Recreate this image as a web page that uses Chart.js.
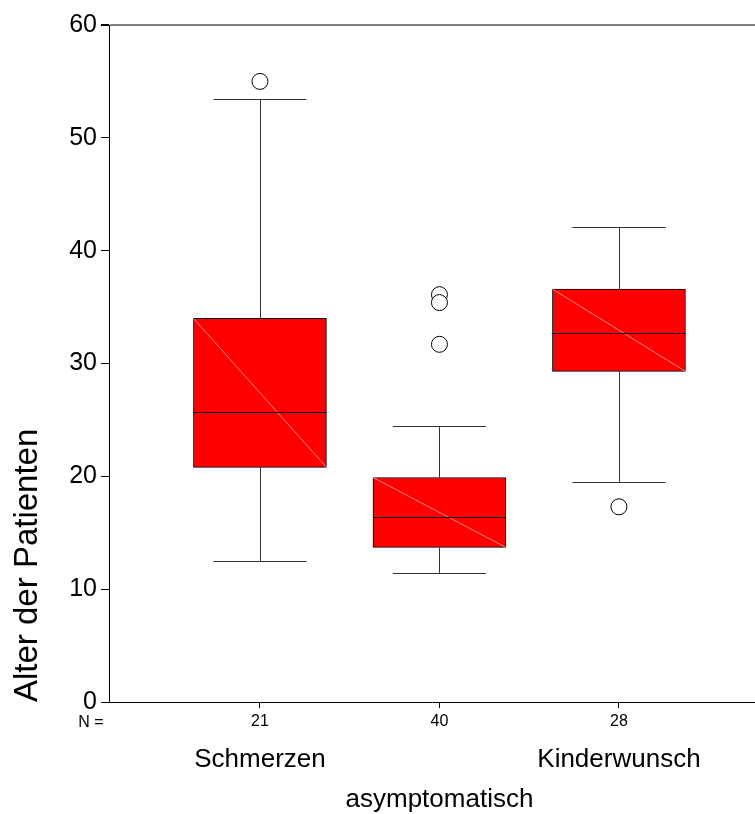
<!DOCTYPE html>
<html>
<head>
<meta charset="utf-8">
<script src="https://cdn.jsdelivr.net/npm/chart.js@4.4.0/dist/chart.umd.min.js"></script>
<style>
    html, body { margin: 0; padding: 0; background: #fff; overflow: hidden; }
    #wrap { width: 755px; height: 814px; overflow: hidden; }
    #canvas { display: block; }
</style>
</head>
<body>
<div id="wrap"><canvas id="canvas"></canvas></div>
<script>
const categories = ['Schmerzen', 'asymptomatisch', 'Kinderwunsch'];
const nCounts = [21, 40, 28];
const whiskerLow = [12.5, 11.4, 19.5];
const q1 = [20.8, 13.7, 29.3];
const median = [25.7, 16.4, 32.7];
const q3 = [34.0, 19.9, 36.6];
const whiskerHigh = [53.4, 24.5, 42.1];
const outliers = [[55.0], [36.1, 35.4, 31.7], [17.3]];
const yTicks = [0, 10, 20, 30, 40, 50, 60];

const FONT = "'Liberation Sans', Arial, sans-serif";

let boxData = categories.map((c, i) => ({x: i + 1, y: [q1[i], q3[i]]}));
let outlierData = [];
outliers.forEach((list, i) => {
    list.forEach(v => outlierData.push({x: i + 1, y: v}));
});

// Whisker, Median, Diagonale und die Kategorienamen
const boxExtras = {
    id: 'boxExtras',
    afterDatasetsDraw(chart) {
        const ctx = chart.ctx;
        const xs = chart.scales.x, ys = chart.scales.y;
        const meta = chart.getDatasetMeta(0);
        ctx.save();
        meta.data.forEach((bar, i) => {
            const cx = xs.getPixelForValue(i + 1);
            const half = bar.width / 2;
            const cap = half * 0.7;
            const top = ys.getPixelForValue(q3[i]);
            const bot = ys.getPixelForValue(q1[i]);

            ctx.strokeStyle = 'rgba(255,150,150,0.9)';
            ctx.lineWidth = 1;
            ctx.beginPath();
            ctx.moveTo(cx - half, top);
            ctx.lineTo(cx + half, bot);
            ctx.stroke();

            ctx.strokeStyle = '#000';
            ctx.beginPath();
            const m = Math.round(ys.getPixelForValue(median[i])) + 0.5;
            ctx.moveTo(cx - half, m);
            ctx.lineTo(cx + half, m);
            ctx.stroke();

            ctx.strokeStyle = '#333';
            const hi = Math.round(ys.getPixelForValue(whiskerHigh[i])) + 0.5;
            const lo = Math.round(ys.getPixelForValue(whiskerLow[i])) + 0.5;
            const vx = Math.round(cx) + 0.5;
            ctx.beginPath();
            ctx.moveTo(vx, top); ctx.lineTo(vx, hi);
            ctx.moveTo(cx - cap, hi); ctx.lineTo(cx + cap, hi);
            ctx.moveTo(vx, bot); ctx.lineTo(vx, lo);
            ctx.moveTo(cx - cap, lo); ctx.lineTo(cx + cap, lo);
            ctx.stroke();
        });
        ctx.restore();
    },
    afterDraw(chart) {
        const ctx = chart.ctx;
        const xs = chart.scales.x;
        const base = chart.chartArea.bottom;
        ctx.save();
        ctx.fillStyle = '#000';
        ctx.textAlign = 'center';
        ctx.textBaseline = 'middle';
        ctx.font = '16px ' + FONT;
        ctx.fillText('N =', xs.left - 18, base + 21);
        ctx.font = '26px ' + FONT;
        categories.forEach((c, i) => {
            ctx.fillText(c, xs.getPixelForValue(i + 1), base + 58 + (i % 2) * 40);
        });
        ctx.restore();
    }
};

new Chart(document.getElementById('canvas').getContext('2d'), {
    type: 'bar',
    data: {
        datasets: [{
            data: boxData,
            backgroundColor: '#ff0000',
            borderColor: '#000',
            borderWidth: 1,
            borderSkipped: false,
            barThickness: 133
        }, {
            type: 'scatter',
            data: outlierData,
            pointStyle: 'circle',
            pointRadius: 8,
            pointHoverRadius: 8,
            pointBackgroundColor: '#fff',
            pointBorderColor: '#000',
            pointBorderWidth: 1
        }]
    },
    options: {
        responsive: true,
        maintainAspectRatio: false,
        animation: false,
        events: [],
        layout: {autoPadding: false, padding: {top: 25, left: 0, right: 0, bottom: 0}},
        plugins: {
            legend: {display: false},
            tooltip: {enabled: false}
        },
        scales: {
            x: {
                type: 'linear',
                min: 0.159,
                max: 3.758,
                offset: false,
                afterBuildTicks: s => { s.ticks = [1, 2, 3].map(v => ({value: v})); },
                afterFit: s => { s.height = 112; s.paddingRight = 0; },
                grid: {offset: false, drawOnChartArea: false, tickLength: 6, color: '#000'},
                border: {color: '#000', width: 1},
                ticks: {
                    color: '#000',
                    font: {family: FONT, size: 16},
                    padding: 4,
                    maxRotation: 0,
                    autoSkip: false,
                    callback: v => nCounts[v - 1]
                }
            },
            y: {
                min: 0,
                max: 60,
                afterBuildTicks: s => { s.ticks = yTicks.map(v => ({value: v})); },
                afterFit: s => { s.width = 109; },
                grid: {
                    drawOnChartArea: true,
                    tickLength: 8,
                    color: c => c.tick && c.tick.value === 60 ? '#808080' : 'rgba(0,0,0,0)',
                    tickColor: '#000',
                    lineWidth: c => c.tick && c.tick.value === 60 ? 2 : 1
                },
                border: {color: '#000', width: 1},
                ticks: {
                    color: '#000',
                    font: {family: FONT, size: 25},
                    padding: 4
                },
                title: {
                    display: true,
                    text: 'Alter der Patienten',
                    align: 'start',
                    color: '#000',
                    font: {family: FONT, size: 33},
                    padding: {top: 8, bottom: 0}
                }
            }
        }
    },
    plugins: [boxExtras]
});
</script>
</body>
</html>
